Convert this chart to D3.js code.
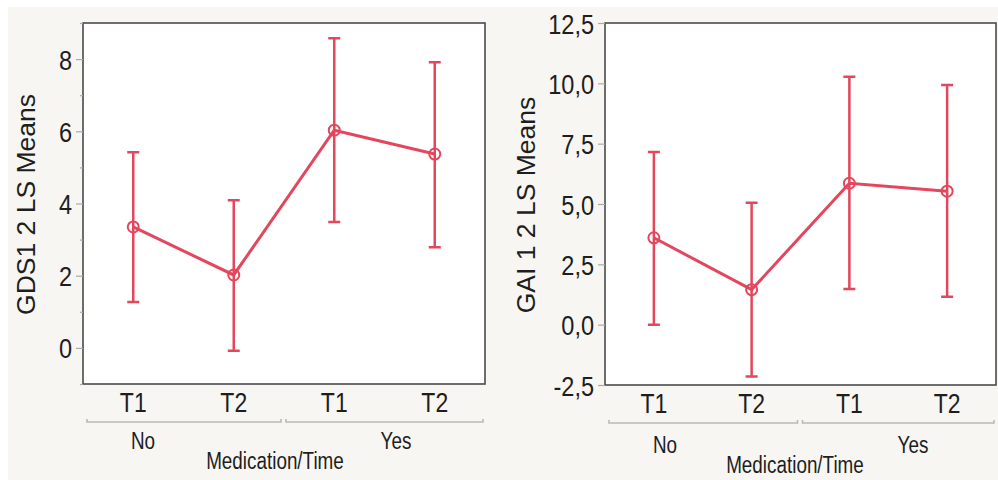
<!DOCTYPE html>
<html>
<head>
<meta charset="utf-8">
<script src="https://cdn.jsdelivr.net/npm/d3@7"></script>
<style>
  body { margin: 0; background: #fff; }
  svg { display: block; }
  .tick text { font-family: "Liberation Sans", Arial, sans-serif; fill: #1e1e1e; }
</style>
</head>
<body>
<div id="chart"></div>
<script>
// 1: DATA
const groups = ["No", "No", "Yes", "Yes"];
const times = ["T1", "T2", "T1", "T2"];

const gdsMean  = [3.35, 2.02, 6.03, 5.37];
const gdsLower = [1.27, -0.08, 3.49, 2.79];
const gdsUpper = [5.42, 4.09, 8.58, 7.91];

const gaiMean  = [3.6, 1.45, 5.86, 5.53];
const gaiLower = [0.0, -2.15, 1.48, 1.16];
const gaiUpper = [7.15, 5.05, 10.27, 9.93];

const gdsTicks = [0, 2, 4, 6, 8];
const gdsMinorTicks = [-1, 1, 3, 5, 7, 9];
const gaiTicks = [-2.5, 0, 2.5, 5, 7.5, 10, 12.5];

const red = "#e4475d";
const font = '"Liberation Sans", Arial, sans-serif';

// squeeze horizontal text a bit, the original uses a condensed face
function condense(sel, k) {
    sel.each(function() {
        const len = this.getComputedTextLength();
        d3.select(this)
            .attr("textLength", len * k)
            .attr("lengthAdjust", "spacingAndGlyphs");
    });
}

// 2: SVG
const svg = d3.select("#chart")
    .append("svg")
    .attr("width", 998)
    .attr("height", 480);

svg.append("rect")
    .attr("x", 8).attr("y", 7)
    .attr("width", 990).attr("height", 473)
    .attr("fill", "#f7f6f2");

// European style decimals, plain hyphen for minus
const comma = d3.formatLocale({ decimal: ",", thousands: ".", grouping: [3], currency: ["", ""], minus: "-" }).format(".1f");

// 3: PANELS
const panels = [
    {
        left: 83, right: 485, top: 23, bottom: 384,
        domain: [-1, 9], ticks: gdsTicks, minor: gdsMinorTicks, fmt: d3.format("d"),
        mean: gdsMean, lower: gdsLower, upper: gdsUpper,
        title: "GDS1 2 LS Means", titleX: 25,
        groupLabelX: [143, 396], groupLabelY: 449,
        xTitleX: 275, xTitleY: 469
    },
    {
        left: 605, right: 996, top: 23, bottom: 385,
        domain: [-2.5, 12.5], ticks: gaiTicks, minor: [], fmt: comma,
        mean: gaiMean, lower: gaiLower, upper: gaiUpper,
        title: "GAI 1 2 LS Means", titleX: 525,
        groupLabelX: [665, 913], groupLabelY: 453,
        xTitleX: 795, xTitleY: 473
    }
];

panels.forEach(p => {
    const idx = d3.range(groups.length);
    const x = d3.scaleBand().domain(idx).range([p.left, p.right]);
    const y = d3.scaleLinear().domain(p.domain).range([p.bottom, p.top]);
    const cx = i => x(i) + x.bandwidth() / 2;

    // frame
    svg.append("rect")
        .attr("x", p.left).attr("y", p.top)
        .attr("width", p.right - p.left).attr("height", p.bottom - p.top)
        .attr("fill", "#fff")
        .attr("stroke", "#4a4a4a")
        .attr("stroke-width", 1.6);

    // minor ticks
    svg.append("g")
        .attr("transform", `translate(${p.left},0)`)
        .call(d3.axisLeft(y).tickValues(p.minor).tickSize(3).tickFormat(""))
        .call(g => g.select(".domain").remove())
        .call(g => g.selectAll("line").attr("stroke", "#aaa").attr("stroke-width", 1.2));

    // y axis
    svg.append("g")
        .attr("transform", `translate(${p.left},0)`)
        .call(d3.axisLeft(y).tickValues(p.ticks).tickSize(7).tickPadding(4).tickFormat(p.fmt))
        .call(g => g.select(".domain").remove())
        .call(g => g.selectAll("line").attr("stroke", "#aaa").attr("stroke-width", 1.2))
        .call(g => g.selectAll("text").style("font-size", "28px").attr("dy", "0.36em").call(condense, 0.84));

    // y title
    svg.append("text")
        .attr("transform", `translate(${p.titleX},${(p.top + p.bottom) / 2 + 1}) rotate(-90)`)
        .attr("text-anchor", "middle")
        .attr("dy", "0.36em")
        .style("font-family", font)
        .style("font-size", "26.5px")
        .style("fill", "#1e1e1e")
        .text(p.title);

    // x axis labels
    svg.append("g")
        .attr("transform", `translate(0,${p.bottom})`)
        .call(d3.axisBottom(x).tickSize(0).tickPadding(28).tickFormat(i => times[i]))
        .call(g => g.select(".domain").remove())
        .call(g => g.selectAll("text").style("font-size", "28px").attr("dy", 0).call(condense, 0.82));

    // group brackets
    const groupNames = Array.from(new Set(groups));
    groupNames.forEach((gname, k) => {
        const members = idx.filter(i => groups[i] === gname);
        const x0 = x(members[0]) + (k === 0 ? 4 : 2);
        const x1 = x(members[members.length - 1]) + x.bandwidth() - (k === groupNames.length - 1 ? 2 : 3);
        const by = p.bottom + 38;
        svg.append("path")
            .attr("d", `M${x0},${by - 3}V${by}H${x1}V${by - 3}`)
            .attr("fill", "none")
            .attr("stroke", "#b9b9b6")
            .attr("stroke-width", 1.6);
        svg.append("text")
            .attr("x", p.groupLabelX[k])
            .attr("y", p.groupLabelY)
            .attr("text-anchor", "middle")
            .style("font-family", font)
            .style("font-size", "23px")
            .style("fill", "#1e1e1e")
            .text(gname)
            .call(condense, 0.82);
    });

    // x title
    svg.append("text")
        .attr("x", p.xTitleX)
        .attr("y", p.xTitleY)
        .attr("text-anchor", "middle")
        .style("font-family", font)
        .style("font-size", "23px")
        .style("fill", "#1e1e1e")
        .text("Medication/Time")
        .call(condense, 0.82);

    // error bars
    const bars = svg.append("g").attr("stroke", red).attr("stroke-width", 2.5).attr("fill", "none");
    idx.forEach(i => {
        bars.append("path")
            .attr("d", `M${cx(i)},${y(p.lower[i])}V${y(p.upper[i])}` +
                `M${cx(i) - 6},${y(p.upper[i])}H${cx(i) + 6}` +
                `M${cx(i) - 6},${y(p.lower[i])}H${cx(i) + 6}`);
    });

    // mean line
    const line = d3.line().x(i => cx(i)).y(i => y(p.mean[i]));
    svg.append("path")
        .datum(idx)
        .attr("d", line)
        .attr("fill", "none")
        .attr("stroke", red)
        .attr("stroke-width", 3);

    svg.append("g")
        .selectAll("circle")
        .data(idx)
        .enter()
        .append("circle")
        .attr("cx", i => cx(i))
        .attr("cy", i => y(p.mean[i]))
        .attr("r", 5.5)
        .attr("fill", "none")
        .attr("stroke", red)
        .attr("stroke-width", 2);
});
</script>
</body>
</html>
